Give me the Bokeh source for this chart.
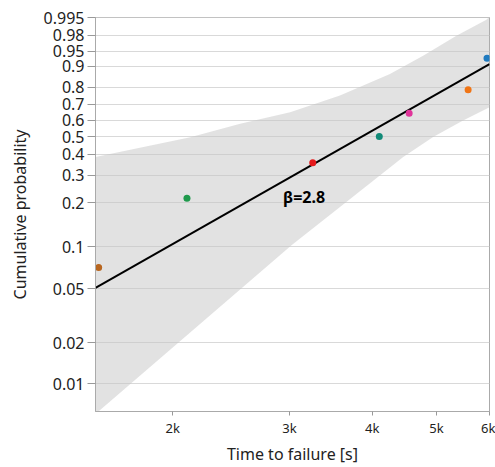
import numpy as np
from bokeh.plotting import figure
from bokeh.models import FixedTicker, CustomJSTickFormatter, Range1d, ColumnDataSource
from bokeh.core.properties import value
from bokeh.embed import file_html
from bokeh.resources import INLINE

# Failure times [s] and their plotting positions
times = [1547, 2102, 3253, 4099, 4547, 5580, 5958]
probs = [0.071, 0.214, 0.357, 0.500, 0.643, 0.786, 0.929]
colors = ["#b8661f", "#1f9a4c", "#e41a1c", "#128a78", "#e0349a", "#f07516", "#1f7bc0"]

# Fitted Weibull parameters
beta = 2.8
eta = 4400.0

# Confidence band edges (time, probability)
upper_t = [1530, 2127, 2529, 3008, 3576, 4254, 4773, 5358, 5946, 6010]
upper_p = [0.386, 0.496, 0.578, 0.650, 0.753, 0.868, 0.937, 0.9797, 0.994, 0.9955]
lower_t = [1530, 1547, 3025, 3576, 4454, 4941, 5483, 6010]
lower_p = [0.00595, 0.00625, 0.1024, 0.1875, 0.3858, 0.4964, 0.5984, 0.681]

# Probability axis ticks
tick_p = [0.995, 0.98, 0.95, 0.9, 0.8, 0.7, 0.6, 0.5, 0.4, 0.3, 0.2, 0.1, 0.05, 0.02, 0.01]
tick_labels = ["0.995", "0.98", "0.95", "0.9", "0.8", "0.7", "0.6", "0.5", "0.4",
               "0.3", "0.2", "0.1", "0.05", "0.02", "0.01"]
x_ticks = [2000, 3000, 4000, 5000, 6000]
x_labels = ["2k", "3k", "4k", "5k", "6k"]


def wb(p):
    """Weibull probability-paper coordinate ln(-ln(1-p))."""
    p = np.asarray(p, dtype=float)
    return np.log(-np.log(1.0 - p))


FONT = "Noto Sans"

p = figure(width=495, height=467, x_axis_type="log", output_backend="svg",
           toolbar_location=None, min_border_left=95, min_border_right=6,
           min_border_top=17, min_border_bottom=55)
p.x_range = Range1d(1530, 6010)
p.y_range = Range1d(float(wb(0.00623)), float(wb(0.9951)))

# confidence band
band_x = list(upper_t) + list(lower_t[::-1])
band_y = list(wb(upper_p)) + list(wb(lower_p[::-1]))
p.patch(band_x, band_y, fill_color="#c6c6c6", fill_alpha=0.5, line_color=None)

# fitted line
fit_t = np.array([1530.0, 6010.0])
fit_y = beta * (np.log(fit_t) - np.log(eta))
p.line(fit_t, fit_y, line_color="black", line_width=2)

# failure points
src = ColumnDataSource(dict(t=times, y=wb(probs), c=colors))
p.scatter("t", "y", source=src, size=7, fill_color="c", line_color=None)

p.text(x=[2935], y=[-1.407], text=["β=2.8"], text_font=value(FONT),
       text_font_size="16px", text_font_style="bold", text_color="black",
       text_align="left", text_baseline="middle")

# axes
p.yaxis.ticker = FixedTicker(ticks=list(wb(tick_p)))
p.yaxis.formatter = CustomJSTickFormatter(args=dict(ys=list(wb(tick_p)), labs=tick_labels), code="""
let best = 0;
for (let i = 0; i < ys.length; i++) {
  if (Math.abs(ys[i] - tick) < Math.abs(ys[best] - tick)) best = i;
}
return labs[best];
""")
p.xaxis.ticker = FixedTicker(ticks=x_ticks, minor_ticks=[])
p.xaxis.major_label_overrides = {t: l for t, l in zip(x_ticks, x_labels)}

p.xaxis.axis_label = "Time to failure [s]"
p.yaxis.axis_label = "Cumulative probability"

for ax in (p.xaxis[0], p.yaxis[0]):
    ax.axis_label_text_font = FONT
    ax.axis_label_text_font_style = "normal"
    ax.axis_label_text_color = "#222222"
    ax.axis_label_text_font_size = "16px"
    ax.major_label_text_font = FONT
    ax.major_label_text_color = "#222222"
    ax.axis_line_color = "#aaaaaa"
    ax.major_tick_line_color = "#999999"
    ax.minor_tick_line_color = None
    ax.major_tick_in = 0

p.yaxis.major_label_text_font_size = "16px"
p.yaxis.major_tick_out = 8
p.yaxis.major_label_standoff = 3
p.yaxis.axis_label_standoff = 10
p.xaxis.major_label_text_font_size = "13px"
p.xaxis.major_tick_out = 4
p.xaxis.major_label_standoff = 3
p.xaxis.axis_label_standoff = 3

p.xgrid.grid_line_color = None
p.ygrid.grid_line_color = "#d9d9d9"
p.ygrid.grid_line_width = 1
p.outline_line_color = "#aaaaaa"
p.background_fill_color = "white"
p.border_fill_color = "white"

open("out.html", "w").write(file_html(p, INLINE))
